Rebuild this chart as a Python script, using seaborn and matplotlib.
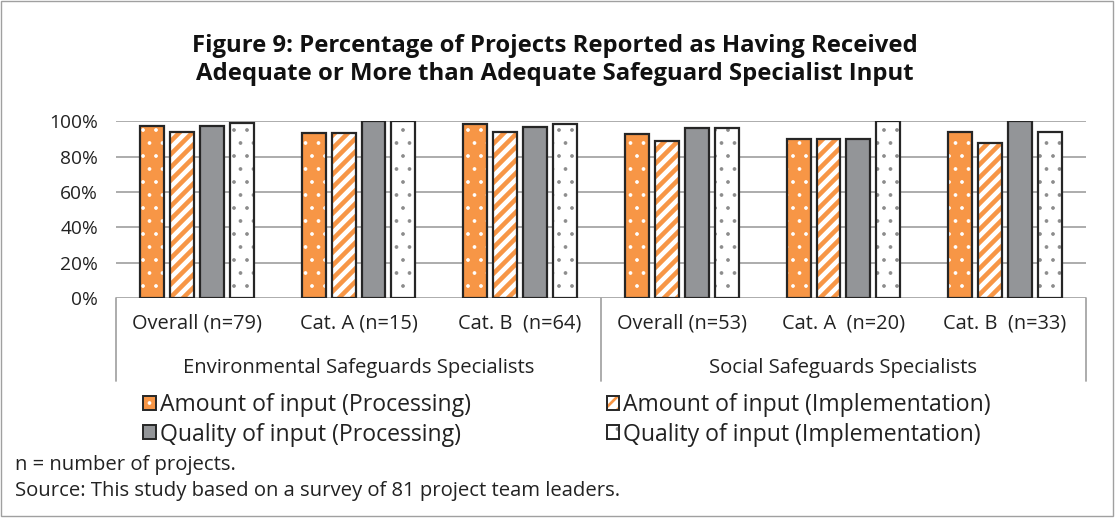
import pandas as pd
import numpy as np
import matplotlib
matplotlib.use('Agg')
import matplotlib.pyplot as plt
import matplotlib.colors as mcolors
import matplotlib.transforms as mtransforms
from matplotlib.patches import Patch, Rectangle
import seaborn as sns

# Datos (porcentaje de proyectos)
categorias = ['Overall (n=79)', 'Cat. A (n=15)', 'Cat. B  (n=64)',
              'Overall (n=53)', 'Cat. A  (n=20)', 'Cat. B  (n=33)']
grupos = ['Environmental Safeguards Specialists', 'Social Safeguards Specialists']
series = ['Amount of input (Processing)', 'Amount of input (Implementation)',
          'Quality of input (Processing)', 'Quality of input (Implementation)']
amount_proc = [97.5, 93.3, 98.4, 92.5, 90.0, 93.9]
amount_impl = [93.7, 93.3, 93.8, 88.7, 90.0, 87.9]
quality_proc = [97.5, 100.0, 96.9, 96.2, 90.0, 100.0]
quality_impl = [98.7, 100.0, 98.4, 96.2, 100.0, 93.9]

naranja = '#F79646'
gris = '#939598'
borde = '#262626'
texto = '#222222'

# dpi bajo para que las tramas tengan el tamaño del original; K pasa tamaños a esta escala
DPI = 78
K = 100 / DPI

df = pd.DataFrame({
    'Categoria': categorias * 4,
    'Serie': np.repeat(series, len(categorias)),
    'Valor': amount_proc + amount_impl + quality_proc + quality_impl,
})

sns.set_style('white')
plt.rcParams['font.family'] = ['Open Sans', 'DejaVu Sans']

fig = plt.figure(figsize=(1116 / DPI, 520 / DPI), dpi=DPI)
ax = fig.add_axes([0.104, 0.427, 0.869, 0.340])

sns.barplot(data=df, x='Categoria', y='Valor', hue='Serie', order=categorias,
            hue_order=series, palette=[naranja, 'white', gris, 'white'],
            saturation=1, width=0.74, gap=0.2, edgecolor=borde, linewidth=1.6 * K,
            errorbar=None, legend=False, ax=ax, zorder=3)

# Tramas de cada serie: (hatch, color de trama, grosor)
tramas = [('.', 'white', 1.0), ('//', naranja, 4.2), ('', borde, 1.0), ('.', '#8C8C8C', 1.0)]

def aplicar_trama(p, hatch, color, lw):
    p.set_hatch(hatch)
    if hasattr(p, 'set_hatchcolor'):
        p.set_hatchcolor(color)
    else:
        p._hatch_color = mcolors.to_rgba(color)
    if hasattr(p, 'set_hatch_linewidth'):
        p.set_hatch_linewidth(lw)
    else:
        p._hatch_linewidth = lw
    # grosor de trama también por rcParams en el momento de dibujar
    dibujo = p.draw
    def draw(renderer, _d=dibujo, _lw=lw):
        with plt.rc_context({'hatch.linewidth': _lw}):
            _d(renderer)
    p.draw = draw

for cont, (h, c, lw) in zip(ax.containers, tramas):
    for p in cont.patches:
        aplicar_trama(p, h, c, lw)

ax.set_ylim(0, 100)
ax.set_xlim(-0.5, 5.5)
ax.set_yticks([0, 20, 40, 60, 80, 100])
ax.set_yticklabels([f'{v}%' for v in [0, 20, 40, 60, 80, 100]])
ax.yaxis.grid(True, color='#A6A6A6', linewidth=1.3 * K, zorder=0)
ax.set_axisbelow(True)
for s in ax.spines.values():
    s.set_visible(False)
ax.tick_params(axis='y', length=0, pad=13 * K, labelsize=13.8 * K, labelcolor=texto)
ax.tick_params(axis='x', length=0, pad=11 * K, labelsize=14.4 * K, labelcolor=texto)
ax.set_xlabel('')
ax.set_ylabel('')

# Etiquetas de grupo y separadores (eje de dos niveles)
trans = mtransforms.blended_transform_factory(ax.transData, ax.transAxes)
for i, g in enumerate(grupos):
    ax.text(1 + 3 * i, -0.395, g, transform=trans, ha='center', va='center',
            fontsize=14.6 * K, color=texto)
for x in [-0.5, 2.5, 5.5]:
    ax.plot([x, x], [0, -0.47], transform=trans, color='#A6A6A6', linewidth=1.3 * K,
            clip_on=False)

# Leyenda (orden por columnas)
estilos = dict(zip(series, zip([naranja, 'white', gris, 'white'], tramas)))
orden = [series[0], series[2], series[1], series[3]]
handles = [Patch(facecolor=estilos[s][0], edgecolor=borde, linewidth=1.4 * K, label=s)
           for s in orden]
leg = fig.legend(handles=handles, ncol=2, loc='center', bbox_to_anchor=(0.508, 0.193),
                 frameon=False, fontsize=16.6 * K, handlelength=0.55, handleheight=0.55,
                 handletextpad=0.15, columnspacing=5.9, labelspacing=0.25,
                 labelcolor=texto)
for s, hp in zip(orden, leg.legend_handles):
    h, c, lw = estilos[s][1]
    aplicar_trama(hp, h, c, 2.5 if lw > 1 else lw)

# Titulo y notas
fig.text(0.497, 0.885, 'Figure 9: Percentage of Projects Reported as Having Received\n'
         'Adequate or More than Adequate Safeguard Specialist Input',
         ha='center', va='center', fontsize=17.2 * K, fontweight='bold', linespacing=1.22,
         color='#111111')
fig.text(0.013, 1 - 465 / 520, 'n = number of projects.', ha='left', va='center',
         fontsize=14.6 * K, color=texto)
fig.text(0.013, 1 - 491 / 520, 'Source: This study based on a survey of 81 project team leaders.',
         ha='left', va='center', fontsize=14.6 * K, color=texto)

fig.patches.append(Rectangle((0.001, 0.008), 0.996, 0.99, transform=fig.transFigure,
                             fill=False, edgecolor='#A0A0A0', linewidth=1.0 * K))

fig.savefig('out.png', dpi=DPI)
